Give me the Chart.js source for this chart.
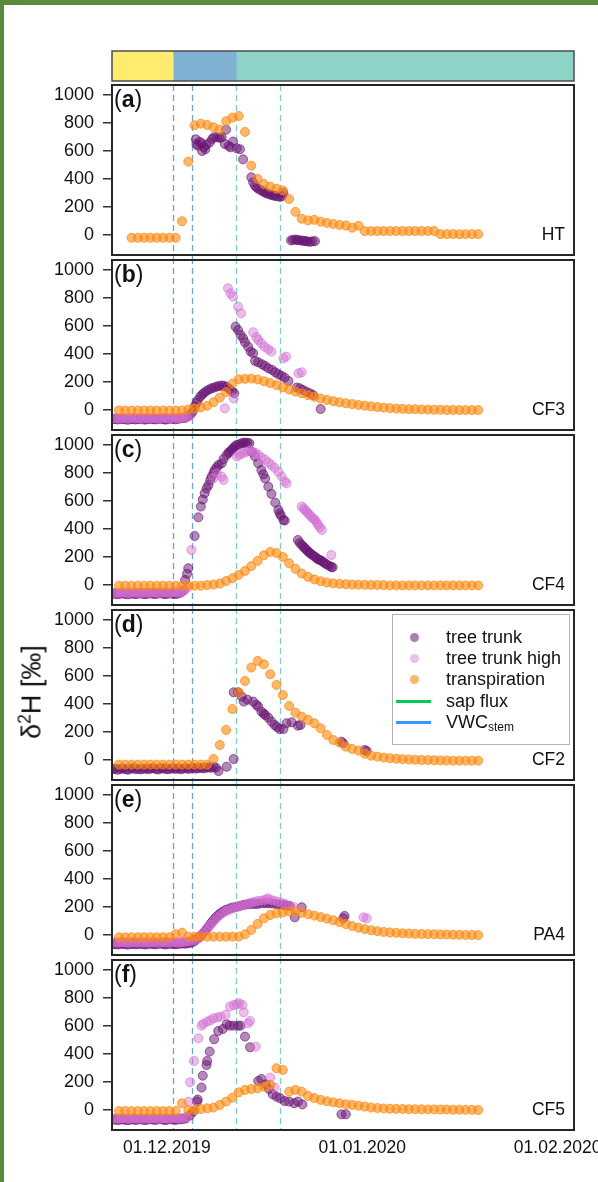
<!DOCTYPE html>
<html>
<head>
<meta charset="utf-8">
<script src="https://cdn.jsdelivr.net/npm/chart.js@4.4.1/dist/chart.umd.min.js"></script>
<style>
  body { margin: 0; width: 598px; height: 1182px; position: relative; overflow: hidden; background: #fff;
         font-family: "Liberation Sans", Arial, sans-serif; color: #111; }
  .green-left { position: absolute; left: 0; top: 0; width: 4px; height: 1182px; background: #568c3b; }
  .green-top { position: absolute; left: 0; top: 0; width: 598px; height: 5px; background: #568c3b; }
  canvas { position: absolute; left: 0; }
  .plabel { position: absolute; left: 114px; font-size: 23px; line-height: 26px; }
  .site { position: absolute; right: 33px; font-size: 17.5px; line-height: 20px; }
  .ytitle { position: absolute; left: 31px; top: 692px; transform: translate(-50%, -50%) rotate(-90deg);
            font-size: 27px; white-space: nowrap; }
  .ytitle sup { font-size: 0.65em; }
  .legend { position: absolute; left: 392px; top: 614px; width: 176px; height: 129px; border: 1px solid #b3b3b3; background: #fff; }
  .legend .row { position: absolute; left: 0; height: 20px; width: 176px; }
  .legend .dot { position: absolute; left: 17px; top: 6px; width: 9px; height: 9px; border-radius: 50%; }
  .legend .ln { position: absolute; left: 3px; top: 9px; width: 35px; height: 3px; }
  .legend .tx { position: absolute; left: 53px; top: 0; font-size: 18px; line-height: 20px; white-space: nowrap; }
  .legend sub { font-size: 12px; vertical-align: -3px; }
</style>
</head>
<body>
<div class="green-left"></div>
<div class="green-top"></div>
<canvas id="phase" width="598" height="34" style="top:49px"></canvas>
<div id="panels"></div>
<div class="ytitle">δ<sup>2</sup>H [‰]</div>
<div class="legend">
  <div class="row" style="top:12px"><div class="dot" style="background:rgba(105,20,115,0.55)"></div><div class="tx">tree trunk</div></div>
  <div class="row" style="top:33px"><div class="dot" style="background:rgba(210,110,210,0.45)"></div><div class="tx">tree trunk high</div></div>
  <div class="row" style="top:54px"><div class="dot" style="background:rgba(255,135,10,0.6)"></div><div class="tx">transpiration</div></div>
  <div class="row" style="top:76px"><div class="ln" style="background:#00cc55"></div><div class="tx">sap flux</div></div>
  <div class="row" style="top:97px"><div class="ln" style="background:#3399ff"></div><div class="tx">VWC<sub>stem</sub></div></div>
</div>
<script>
// x values are days since 01.12.2019
const xMin = -8.7, xMax = 64.6;
const yMin = -143, yMax = 1071;
const yTicks = [0, 200, 400, 600, 800, 1000];
const xTicks = [0, 31, 62];
const xTickLabels = ["01.12.2019", "01.01.2020", "01.02.2020"];

const phaseEdges = [xMin, 1, 11, xMax];
const phaseColors = ["#ffeb6e", "#80b1d3", "#8dd3c7"];
const vwcDays = [1, 4];
const sapFluxDays = [11, 18];

const sites = ["HT", "CF3", "CF4", "CF2", "PA4", "CF5"];
const letters = ["a", "b", "c", "d", "e", "f"];

// daily transpiration, one value per day
const transpDays = [-7.6,-6.6,-5.6,-4.6,-3.6,-2.6,-1.6,-0.6,0.4,1.4,2.4,3.4,4.4,5.4,6.4,7.4,8.4,9.4,10.4,11.4,
  12.4,13.4,14.4,15.4,16.4,17.4,18.4,19.4,20.4,21.4,22.4,23.4,24.4,25.4,26.4,27.4,28.4,29.4,30.4,31.4,
  32.4,33.4,34.4,35.4,36.4,37.4,38.4,39.4,40.4,41.4,42.4,43.4,44.4,45.4,46.4,47.4,48.4,49.4];

const htTransp = [null,null,-20,-20,-20,-20,-20,-20,-20,-20,98,524,783,795,786,769,752,812,838,850,
  736,495,400,364,345,330,318,257,165,116,104,108,95,86,79,72,68,52,66,28,
  28,28,28,28,28,28,28,28,28,28,28,6,6,6,5,6,6,6];
const cf3Transp = [-4,-4,-4,-4,-4,-4,-4,-4,-4,-4,-4,3,10,18,30,55,88,128,188,220,
  222,224,218,205,192,178,162,146,132,120,106,94,82,72,63,55,48,42,36,31,
  26,21,17,13,10,8,6,5,4,3,2,1,0,0,-1,-1,-1,-1];
const cf4Transp = [-5,-5,-5,-5,-5,-5,-5,-5,-5,-5,-5,-5,-5,-5,-1,3,10,28,48,72,
  100,135,172,212,236,228,200,155,115,82,58,40,27,18,12,8,5,3,2,1,
  0,0,-1,-3,-3,-3,-3,-3,-3,-3,-3,-3,-3,-3,-3,-3,-3,-3];
const cf2Transp = [-33,-33,-33,-33,-33,-33,-33,-33,-33,-33,-33,-33,-33,-33,-33,7,107,214,364,483,
  564,660,707,683,612,536,464,386,338,310,286,262,226,179,143,124,95,79,67,45,
  31,24,17,12,8,6,4,2,0,-1,-2,-3,-4,-5,-5,-5,-5,-5];
const pa4Transp = [-16,-16,-16,-16,-16,-16,-16,-16,-16,5,17,-12,-12,-12,-12,-12,-12,-12,-12,-12,
  5,36,79,119,143,155,162,168,170,158,148,138,128,117,105,92,78,64,52,42,
  34,27,22,18,15,12,10,8,7,6,5,4,3,2,1,0,0,-1];
const cf5Transp = [-8,-8,-8,-8,-8,-8,-8,-8,-8,-8,48,-2,0,7,12,17,36,60,88,126,
  143,150,155,167,179,298,286,131,143,131,100,85,72,62,55,48,40,36,30,24,
  18,14,11,9,8,7,6,5,5,4,4,3,3,2,2,1,1,0];

// tree trunk [day, value]
const htTrunk = [[4.6,683],[4.7,650],[4.9,638],[5.2,665],[5.5,655],[5.6,600],[5.9,628],[6.1,612],[6.3,645],
  [6.8,660],[7.2,686],[7.5,698],[8.0,698],[8.4,693],[8.7,698],[9.2,650],[9.4,752],[9.8,636],[10.1,626],
  [10.5,667],[11.1,619],[11.6,612],[12.1,540],[13.4,412],[13.7,375],[14.0,350],[14.3,338],[14.6,327],
  [15.0,318],[15.3,310],[15.6,302],[15.9,296],[16.3,290],[16.6,286],[16.9,282],[17.2,279],[17.6,275],
  [18.0,272],[18.3,278],[18.5,300],[19.7,-39],[20.0,-35],[20.4,-32],[20.7,-36],[21.0,-38],[21.4,-40],
  [21.7,-42],[22.0,-44],[22.3,-46],[22.7,-49],[23.1,-45],[23.5,-44]];

const cf3Trunk = [[-8.6,-66],[-8.2,-64],[-7.8,-68],[-7.4,-65],[-7.0,-63],[-6.6,-67],[-6.2,-70],[-5.8,-66],
  [-5.4,-64],[-5.0,-68],[-4.6,-66],[-4.2,-63],[-3.8,-67],[-3.4,-69],[-3.0,-65],[-2.6,-63],[-2.2,-66],
  [-1.8,-68],[-1.4,-64],[-1.0,-62],[-0.6,-66],[-0.2,-69],[0.2,-65],[0.6,-62],[1.0,-64],[1.4,-67],
  [1.8,-63],[2.2,-60],[2.6,-58],[3.0,-55],[3.4,-45],[3.8,-30],[4.1,-12],[4.4,24],[4.7,50],[4.9,70],
  [5.3,95],[5.6,110],[5.9,122],[6.3,136],[6.7,146],[7.1,155],[7.5,160],[7.9,167],[8.3,171],[8.7,175],
  [9.1,172],[9.5,165],[9.9,150],[10.3,135],[10.7,120],[10.9,595],[11.3,571],[11.7,536],[12.1,512],
  [12.4,483],[12.9,452],[13.3,417],[13.7,405],[14.0,350],[14.5,341],[15.1,326],[15.6,314],[16.1,298],
  [16.7,286],[17.2,269],[17.7,255],[18.2,245],[18.7,231],[19.3,207],[20.6,160],[21.1,155],[21.6,143],
  [22.1,131],[22.7,119],[23.2,107],[24.4,7]];
const cf3High = [[-8.4,-60],[-8.0,-57],[-7.6,-62],[-7.2,-58],[-6.8,-55],[-6.4,-60],[-6.0,-62],[-5.6,-57],
  [-5.2,-55],[-4.8,-60],[-4.4,-58],[-4.0,-62],[-3.6,-56],[-3.2,-58],[-2.8,-61],[-2.4,-57],[-2.0,-55],
  [-1.6,-60],[-1.2,-62],[-0.8,-57],[-0.4,-55],[0.0,-59],[0.4,-61],[0.8,-57],[1.2,-54],[1.6,-58],
  [2.0,-60],[2.4,-55],[2.8,-50],[3.2,-48],[3.6,-40],[9.2,12],[10.6,83],[9.7,869],[10.1,833],[10.5,810],
  [11.3,738],[11.8,690],[13.7,555],[14.2,520],[14.5,500],[15.0,476],[15.5,452],[16.1,433],[16.6,417],
  [18.5,369],[18.9,381],[20.9,262],[21.4,269]];

const cf4Trunk = [[-8.6,-64],[-8.2,-62],[-7.8,-66],[-7.4,-63],[-7.0,-60],[-6.6,-64],[-6.2,-67],[-5.8,-63],
  [-5.4,-61],[-5.0,-65],[-4.6,-63],[-4.2,-60],[-3.8,-64],[-3.4,-66],[-3.0,-62],[-2.6,-60],[-2.2,-63],
  [-1.8,-65],[-1.4,-61],[-1.0,-59],[-0.6,-63],[-0.2,-66],[0.2,-62],[0.6,-60],[1.0,-63],[1.4,-65],
  [1.8,-61],[2.2,-55],[2.6,-40],[2.9,36],[3.2,80],[3.4,119],[4.4,350],[5.0,483],[5.4,560],[5.7,610],
  [6.0,655],[6.3,690],[6.6,714],[6.9,750],[7.1,774],[7.4,800],[7.6,821],[7.9,840],[8.2,857],[8.7,869],
  [9.0,900],[9.5,929],[9.8,945],[10.0,952],[10.3,965],[10.5,976],[10.8,990],[11.1,1000],[11.5,1005],
  [11.9,1012],[12.2,1015],[12.5,1016],[12.8,1014],[13.1,1012],[13.5,950],[14.0,917],[14.5,869],
  [15.0,821],[15.3,790],[15.6,760],[16.1,702],[16.6,650],[17.2,588],[17.7,536],[17.9,512],[18.1,495],
  [18.5,464],[18.7,460],[20.8,321],[21.1,300],[21.4,286],[21.7,272],[21.9,262],[22.2,250],[22.4,238],
  [22.7,228],[22.9,221],[23.2,210],[23.5,202],[23.8,190],[24.0,183],[24.3,178],[24.5,174],[24.8,164],
  [25.1,155],[25.4,145],[25.8,136],[26.1,128],[26.3,126]];
const cf4High = [[-8.4,-57],[-8.0,-54],[-7.6,-58],[-7.2,-55],[-6.8,-52],[-6.4,-56],[-6.0,-59],[-5.6,-54],
  [-5.2,-52],[-4.8,-56],[-4.4,-55],[-4.0,-58],[-3.6,-53],[-3.2,-55],[-2.8,-58],[-2.4,-54],[-2.0,-52],
  [-1.6,-56],[-1.2,-58],[-0.8,-54],[-0.4,-52],[0.0,-55],[0.4,-57],[0.8,-53],[1.2,-50],[1.6,-54],
  [2.0,-56],[2.4,-50],[2.8,-40],[3.2,-20],[3.9,250],[7.4,762],[7.9,798],[8.7,774],[9.0,750],[11.1,917],
  [11.5,930],[11.9,940],[12.4,945],[12.8,955],[13.2,960],[13.6,950],[14.0,945],[14.5,929],[15.0,910],
  [15.6,895],[16.1,875],[16.6,857],[17.1,836],[17.7,808],[18.2,776],[18.7,740],[19.0,726],[21.4,560],
  [21.7,548],[21.9,536],[22.2,524],[22.4,512],[22.7,498],[23.0,483],[23.3,472],[23.5,464],[23.8,446],
  [24.0,429],[24.3,410],[24.6,393],[26.1,214]];

const cf2Trunk = [[-8.6,-66],[-8.2,-62],[-7.8,-70],[-7.4,-64],[-7.0,-60],[-6.6,-66],[-6.2,-70],[-5.8,-63],
  [-5.4,-58],[-5.0,-66],[-4.6,-62],[-4.2,-68],[-3.8,-64],[-3.4,-60],[-3.0,-66],[-2.6,-62],[-2.2,-58],
  [-1.8,-64],[-1.4,-68],[-1.0,-62],[-0.6,-59],[-0.2,-64],[0.2,-67],[0.6,-62],[1.0,-58],[1.4,-64],
  [1.8,-60],[2.2,-66],[2.6,-62],[3.0,-58],[3.4,-64],[3.8,-60],[4.2,-56],[4.6,-62],[5.0,-58],[5.4,-55],
  [5.8,-60],[6.2,-56],[6.6,-52],[7.0,-56],[7.4,-50],[7.8,-55],[8.2,-79],[9.5,-48],[10.6,7],[10.6,483],
  [11.3,483],[11.9,452],[12.2,417],[12.8,430],[13.7,417],[14.2,395],[14.5,381],[15.0,345],[15.4,330],
  [15.6,321],[16.1,302],[16.6,274],[17.1,250],[17.5,235],[17.9,221],[18.5,221],[19.0,262],[19.8,269],
  [20.8,245],[21.2,250],[27.7,131],[28.0,119],[31.4,71],[31.7,64]];
const cf2High = [];

const pa4Trunk = [[-8.6,-66],[-8.2,-64],[-7.8,-68],[-7.4,-65],[-7.0,-62],[-6.6,-66],[-6.2,-69],[-5.8,-65],
  [-5.4,-63],[-5.0,-67],[-4.6,-65],[-4.2,-62],[-3.8,-66],[-3.4,-68],[-3.0,-64],[-2.6,-62],[-2.2,-65],
  [-1.8,-67],[-1.4,-63],[-1.0,-61],[-0.6,-65],[-0.2,-68],[0.2,-64],[0.6,-62],[1.0,-65],[1.4,-67],
  [1.8,-63],[2.2,-62],[2.6,-60],[3.0,-62],[3.4,-58],[3.8,-55],[4.2,-48],[4.5,-40],[4.7,-31],[5.0,-20],
  [5.3,-12],[5.6,5],[6.0,24],[6.3,42],[6.6,60],[7.0,85],[7.4,107],[7.8,127],[8.2,143],[8.5,155],
  [8.9,167],[9.4,180],[10.0,190],[10.5,197],[11.1,202],[11.6,208],[12.1,214],[12.6,218],[13.2,221],
  [13.7,222],[14.2,221],[14.7,224],[15.3,226],[15.8,227],[16.3,226],[16.8,224],[17.4,221],[17.9,218],
  [18.5,214],[19.0,210],[19.5,207],[20.3,126],[21.4,198],[28.0,119],[28.2,136]];
const pa4High = [[-8.4,-54],[-8.0,-51],[-7.6,-55],[-7.2,-52],[-6.8,-50],[-6.4,-53],[-6.0,-56],[-5.6,-52],
  [-5.2,-50],[-4.8,-54],[-4.4,-52],[-4.0,-55],[-3.6,-51],[-3.2,-53],[-2.8,-55],[-2.4,-51],[-2.0,-50],
  [-1.6,-53],[-1.2,-55],[-0.8,-52],[-0.4,-50],[0.0,-53],[0.4,-55],[0.8,-51],[1.2,-49],[1.6,-52],
  [2.0,-54],[2.4,-50],[2.8,-48],[3.2,-47],[3.6,-45],[4.2,-40],[4.6,-35],[5.0,-25],[5.4,-5],[5.8,15],
  [6.2,35],[6.6,55],[7.0,75],[7.5,100],[8.0,125],[8.5,145],[9.0,160],[9.5,172],[10.0,182],[10.5,190],
  [11.1,200],[11.6,206],[12.1,214],[12.7,220],[13.2,228],[13.7,235],[14.2,240],[14.7,244],[15.3,248],
  [15.8,252],[16.0,262],[16.5,250],[17.0,245],[17.6,238],[18.2,230],[18.8,221],[19.5,207],[20.2,198],
  [31.2,126],[31.7,119]];

const cf5Trunk = [[-8.6,-70],[-8.2,-68],[-7.8,-72],[-7.4,-69],[-7.0,-66],[-6.6,-70],[-6.2,-73],[-5.8,-69],
  [-5.4,-67],[-5.0,-71],[-4.6,-69],[-4.2,-66],[-3.8,-70],[-3.4,-72],[-3.0,-68],[-2.6,-66],[-2.2,-69],
  [-1.8,-71],[-1.4,-67],[-1.0,-65],[-0.6,-69],[-0.2,-72],[0.2,-68],[0.6,-66],[1.0,-69],[1.4,-71],
  [1.8,-67],[2.2,-66],[2.6,-64],[3.0,-60],[3.65,-40],[4.2,-12],[4.8,60],[4.9,75],[5.5,160],[5.7,245],
  [6.3,321],[6.4,350],[6.8,417],[7.5,505],[8.15,564],[8.9,579],[9.5,612],[10.0,602],[10.6,602],
  [11.3,602],[11.7,602],[12.4,524],[13.2,448],[14.5,207],[15.0,221],[15.7,183],[16.2,150],[16.8,112],
  [17.4,95],[18.0,83],[18.7,64],[19.4,60],[20.2,48],[20.8,60],[21.5,40],[27.7,-31],[28.4,-31]];
const cf5High = [[-8.4,-62],[-8.0,-59],[-7.6,-63],[-7.2,-60],[-6.8,-58],[-6.4,-61],[-6.0,-64],[-5.6,-60],
  [-5.2,-58],[-4.8,-62],[-4.4,-60],[-4.0,-63],[-3.6,-59],[-3.2,-61],[-2.8,-63],[-2.4,-59],[-2.0,-58],
  [-1.6,-61],[-1.2,-63],[-0.8,-60],[-0.4,-58],[0.0,-61],[0.4,-63],[0.8,-59],[1.2,-57],[1.6,-60],
  [2.0,-62],[2.4,-58],[2.8,-55],[3.2,-50],[3.43,60],[3.7,198],[4.3,350],[5.0,512],[5.5,602],[5.8,615],
  [6.4,631],[6.9,640],[7.4,655],[8.0,660],[8.5,667],[9.3,679],[10.0,738],[10.6,750],[11.1,755],
  [11.5,762],[12.0,750],[12.2,698],[12.9,619],[13.2,636],[14.1,452],[16.4,231],[17.1,160]];

const trunkSeries = [htTrunk, cf3Trunk, cf4Trunk, cf2Trunk, pa4Trunk, cf5Trunk];
const highSeries = [[], cf3High, cf4High, cf2High, pa4High, cf5High];
const transpSeries = [htTransp, cf3Transp, cf4Transp, cf2Transp, pa4Transp, cf5Transp];

Chart.defaults.font.family = '"Liberation Sans", Arial, sans-serif';

const framePlugin = {
  id: "frame",
  afterDraw(chart, args, opts) {
    const { ctx, chartArea: a } = chart;
    ctx.save();
    ctx.strokeStyle = opts.color || "#222";
    ctx.lineWidth = opts.width || 2;
    ctx.strokeRect(a.left, a.top, a.right - a.left, a.bottom - a.top);
    ctx.restore();
  }
};

const eventLinePlugin = {
  id: "eventLines",
  beforeDatasetsDraw(chart, args, opts) {
    const { ctx, chartArea: a, scales } = chart;
    const top = opts.first ? a.top : 0;
    const bottom = opts.last ? a.bottom : chart.height;
    const draw = (day, color) => {
      const x = Math.round(scales.x.getPixelForValue(day)) + 0.5;
      ctx.strokeStyle = color;
      ctx.beginPath();
      ctx.moveTo(x, top);
      ctx.lineTo(x, bottom);
      ctx.stroke();
    };
    ctx.save();
    ctx.lineWidth = 1.3;
    ctx.setLineDash([6, 4]);
    vwcDays.forEach(d => draw(d, "#6ea6d3"));
    sapFluxDays.forEach(d => draw(d, "#7fd0c2"));
    ctx.restore();
  }
};

// phase bar on top
new Chart(document.getElementById("phase"), {
  type: "bar",
  data: {
    labels: [""],
    datasets: phaseColors.map((c, k) => ({
      data: [[phaseEdges[k], phaseEdges[k + 1]]],
      backgroundColor: c,
      borderWidth: 0,
      barPercentage: 1,
      categoryPercentage: 1,
      grouped: false
    }))
  },
  options: {
    indexAxis: "y",
    responsive: false,
    animation: false,
    devicePixelRatio: 1,
    layout: { autoPadding: false, padding: { left: 112, right: 24, top: 2, bottom: 2 } },
    plugins: { legend: { display: false }, tooltip: { enabled: false }, frame: { color: "#4d4d4d", width: 1.5 } },
    scales: {
      x: { type: "linear", min: xMin, max: xMax, display: false },
      y: { display: false }
    }
  },
  plugins: [framePlugin]
});

const holder = document.getElementById("panels");
const panelTop0 = 85, panelStep = 175;

sites.forEach((site, i) => {
  const last = i === sites.length - 1;
  const top = panelTop0 + panelStep * i;
  const cv = document.createElement("canvas");
  cv.width = 598;
  cv.height = last ? 224 : 175;
  cv.style.top = (top - 2) + "px";
  holder.appendChild(cv);

  const lab = document.createElement("div");
  lab.className = "plabel";
  lab.style.top = (top + 1) + "px";
  lab.innerHTML = "(<b>" + letters[i] + "</b>)";
  holder.appendChild(lab);

  const st = document.createElement("div");
  st.className = "site";
  st.style.top = (top + 139) + "px";
  st.textContent = site;
  holder.appendChild(st);

  const tr = transpSeries[i];
  new Chart(cv, {
    type: "scatter",
    data: {
      datasets: [
        {
          label: "transpiration",
          data: transpDays.map((d, k) => ({ x: d, y: tr[k] })).filter(p => p.y !== null),
          backgroundColor: "rgba(255,135,10,0.6)",
          borderColor: "rgba(255,135,10,0.72)",
          borderWidth: 1,
          pointRadius: 4.5
        },
        {
          label: "tree trunk high",
          data: highSeries[i].map(p => ({ x: p[0], y: p[1] })),
          backgroundColor: "rgba(210,110,210,0.45)",
          borderColor: "rgba(210,110,210,0.6)",
          borderWidth: 1,
          pointRadius: 4.5
        },
        {
          label: "tree trunk",
          data: trunkSeries[i].map(p => ({ x: p[0], y: p[1] })),
          backgroundColor: "rgba(105,20,115,0.5)",
          borderColor: "rgba(105,20,115,0.65)",
          borderWidth: 1,
          pointRadius: 4.5
        }
      ]
    },
    options: {
      responsive: false,
      animation: false,
      devicePixelRatio: 1,
      layout: { autoPadding: false, padding: { top: 2, bottom: last ? 0 : 3, left: 0, right: 24 } },
      plugins: {
        legend: { display: false },
        tooltip: { enabled: false },
        frame: { color: "#262626", width: 2 },
        eventLines: { first: i === 0, last: last }
      },
      scales: {
        x: {
          type: "linear",
          min: xMin,
          max: xMax,
          display: last,
          grid: { display: false, drawTicks: false },
          border: { display: false },
          afterBuildTicks: s => { s.ticks = xTicks.map(v => ({ value: v })); },
          ticks: {
            autoSkip: false,
            maxRotation: 0,
            padding: 8,
            color: "#111",
            font: { size: 17.5 },
            callback: v => xTickLabels[xTicks.indexOf(v)]
          },
          afterFit: s => {
            s.height = last ? 52 : 0;
            s.paddingLeft = 0;
            s.paddingRight = 0;
          }
        },
        y: {
          type: "linear",
          min: yMin,
          max: yMax,
          afterBuildTicks: s => { s.ticks = yTicks.map(v => ({ value: v })); },
          ticks: { autoSkip: false, padding: 9, color: "#111", font: { size: 18 }, callback: v => String(v) },
          grid: { drawOnChartArea: false, tickLength: 9, color: "#333", lineWidth: 1.5 },
          border: { display: false },
          afterFit: s => { s.width = 112; s.paddingTop = 0; s.paddingBottom = 0; }
        }
      }
    },
    plugins: [eventLinePlugin, framePlugin]
  });
});
</script>
</body>
</html>
